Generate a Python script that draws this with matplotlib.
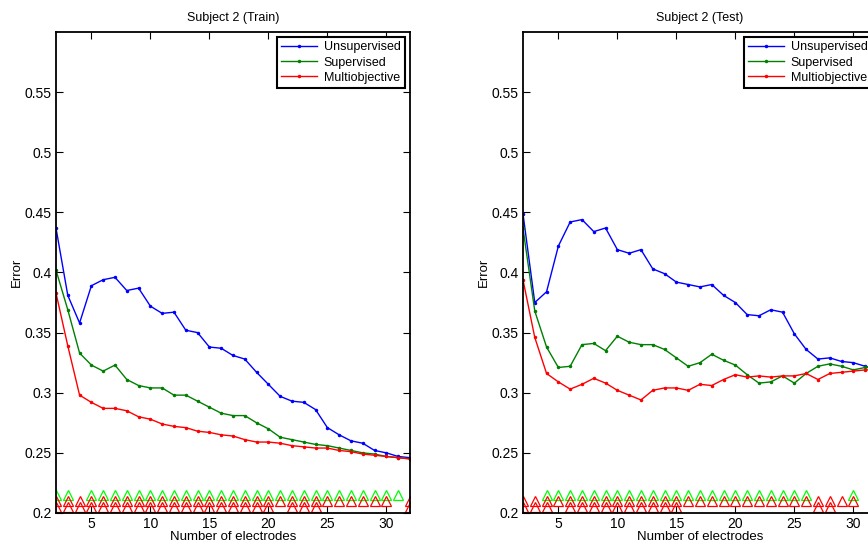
import matplotlib.pyplot as plt
import numpy as np

plt.rcParams['font.family'] = ['Liberation Sans', 'DejaVu Sans']

n_elec = np.arange(2, 33)

# Subject 2, training error
train_unsup = [0.437, 0.381, 0.358, 0.389, 0.394, 0.396, 0.385, 0.387, 0.372, 0.366,
               0.367, 0.352, 0.350, 0.338, 0.337, 0.331, 0.328, 0.317, 0.307, 0.297,
               0.293, 0.292, 0.286, 0.271, 0.265, 0.260, 0.258, 0.252, 0.250, 0.247, 0.246]
train_sup = [0.402, 0.369, 0.333, 0.323, 0.318, 0.323, 0.311, 0.306, 0.304, 0.304,
             0.298, 0.298, 0.293, 0.288, 0.283, 0.281, 0.281, 0.275, 0.270, 0.263,
             0.261, 0.259, 0.257, 0.256, 0.254, 0.252, 0.250, 0.249, 0.247, 0.246, 0.245]
train_multi = [0.383, 0.339, 0.298, 0.292, 0.287, 0.287, 0.285, 0.280, 0.278, 0.274,
               0.272, 0.271, 0.268, 0.267, 0.265, 0.264, 0.261, 0.259, 0.259, 0.258,
               0.256, 0.255, 0.254, 0.254, 0.252, 0.251, 0.249, 0.248, 0.247, 0.246, 0.245]

# Subject 2, test error
test_unsup = [0.449, 0.375, 0.384, 0.422, 0.442, 0.444, 0.434, 0.437, 0.419, 0.416,
              0.419, 0.403, 0.399, 0.392, 0.390, 0.388, 0.390, 0.381, 0.375, 0.365,
              0.364, 0.369, 0.367, 0.349, 0.336, 0.328, 0.329, 0.326, 0.325, 0.322, 0.319]
test_sup = [0.437, 0.368, 0.338, 0.321, 0.322, 0.340, 0.341, 0.335, 0.347, 0.342,
            0.340, 0.340, 0.336, 0.329, 0.322, 0.325, 0.332, 0.327, 0.323, 0.315,
            0.308, 0.309, 0.314, 0.308, 0.316, 0.322, 0.324, 0.322, 0.319, 0.321, 0.321]
test_multi = [0.394, 0.346, 0.316, 0.309, 0.303, 0.307, 0.312, 0.308, 0.302, 0.298,
              0.294, 0.302, 0.304, 0.304, 0.302, 0.307, 0.306, 0.311, 0.315, 0.313,
              0.314, 0.313, 0.314, 0.314, 0.316, 0.311, 0.316, 0.317, 0.318, 0.319, 0.319]

# significance markers: (electrode counts, level)
train_sig_green = [2, 3] + list(range(5, 32))
train_sig_red_hi = list(range(2, 31)) + [32]
train_sig_red_lo = list(range(2, 21)) + [22, 23, 24, 32]
test_sig_green = list(range(4, 27)) + [30]
test_sig_red_hi = list(range(2, 31))
test_sig_red_lo = [2, 3, 4] + list(range(6, 16)) + [27, 28]

labels = ['Unsupervised', 'Supervised', 'Multiobjective']
line_colors = ['#0000ff', '#008000', '#ff0000']


def draw_panel(ax, curves, sig, title):
    for y, c, lab in zip(curves, line_colors, labels):
        ax.plot(n_elec, y, '.-', color=c, lw=1.0, ms=3, label=lab)
    levels = [0.215, 0.21, 0.205]
    sig_colors = ['#00ff00', '#ff0000', '#ff0000']
    for xs, lev, c in zip(sig, levels, sig_colors):
        ax.plot(xs, [lev] * len(xs), '^', mfc='none', mec=c, ms=6.5, mew=0.9,
                linestyle='none')
    ax.set_xlim(2, 32)
    ax.set_ylim(0.2, 0.6)
    ax.set_xticks([5, 10, 15, 20, 25, 30])
    ax.set_yticks([0.2, 0.25, 0.3, 0.35, 0.4, 0.45, 0.5, 0.55])
    ax.set_yticklabels(['0.2', '0.25', '0.3', '0.35', '0.4', '0.45', '0.5', '0.55'])
    ax.tick_params(direction='in', top=True, right=True, length=5, width=0.8,
                   labelsize=10, pad=3)
    for s in ax.spines.values():
        s.set_linewidth(1.3)
    ax.set_title(title, fontsize=9, pad=8)
    ax.set_xlabel('Number of electrodes', fontsize=9.5, labelpad=0)
    ax.set_ylabel('Error', fontsize=9.5, labelpad=1.5)
    leg = ax.legend(loc='upper right', fontsize=9, fancybox=False, framealpha=1,
                    borderaxespad=0.4, handlelength=2.9, handletextpad=0.5,
                    borderpad=0.35, labelspacing=0.25)
    leg.get_frame().set_edgecolor('black')
    leg.get_frame().set_linewidth(1.5)


fig = plt.figure(figsize=(8.68, 5.48), dpi=100)
ax1 = fig.add_axes([0.0645, 0.0639, 0.4078, 0.8777])
ax2 = fig.add_axes([0.6025, 0.0639, 0.4078, 0.8777])

draw_panel(ax1, [train_unsup, train_sup, train_multi],
           [train_sig_green, train_sig_red_hi, train_sig_red_lo], 'Subject 2 (Train)')
draw_panel(ax2, [test_unsup, test_sup, test_multi],
           [test_sig_green, test_sig_red_hi, test_sig_red_lo], 'Subject 2 (Test)')

fig.savefig('out.png', dpi=100)
